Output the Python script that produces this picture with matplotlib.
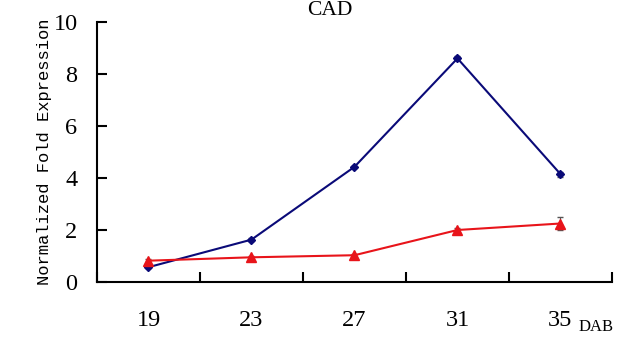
import matplotlib
matplotlib.use("Agg")
import matplotlib.pyplot as plt
import numpy as np

# Sampling stages (days after blooming) and normalized fold expression of CAD
stages = ["19", "23", "27", "31", "35"]
series_blue = [0.57, 1.63, 4.43, 8.60, 4.15]
err_blue = [0.05, 0.05, 0.05, 0.08, 0.10]
series_red = [0.82, 0.95, 1.03, 2.00, 2.25]
err_red = [0.05, 0.05, 0.05, 0.06, 0.25]
y_ticks = [0, 2, 4, 6, 8, 10]

serif = ["Liberation Serif", "DejaVu Serif"]

fig = plt.figure(figsize=(6.23, 3.37), dpi=100)
ax = fig.add_axes([0.1557, 0.1632, 0.8266, 0.7715])

x = np.arange(len(stages))
ax.errorbar(x, series_blue, yerr=err_blue, color="#0a0a78", lw=1.5,
            marker="D", ms=4, ecolor="#555555", elinewidth=0.8, capsize=2.5,
            zorder=3)
ax.errorbar(x, series_red, yerr=err_red, color="#e8141a", lw=1.5,
            marker="^", ms=6.5, ecolor="#555555", elinewidth=0.8, capsize=2.5,
            zorder=3)

ax.set_xlim(-0.5, len(stages) - 0.5)
ax.set_ylim(0, 10)

# major ticks sit between categories; category labels ride on minor ticks
ax.set_xticks(np.arange(-0.5, len(stages), 1.0))
ax.set_xticklabels([])
ax.set_xticks(x, minor=True)
ax.set_xticklabels(stages, minor=True, fontfamily=serif, fontsize=17.5)
ax.tick_params(axis="x", which="major", direction="in", length=7, width=1.5)
ax.tick_params(axis="x", which="minor", length=0, pad=20)

ax.set_yticks(y_ticks)
ax.set_yticklabels([str(v) for v in y_ticks], fontfamily=serif, fontsize=17.5)
ax.tick_params(axis="y", direction="in", length=7, width=1.5, pad=14)

for side in ("top", "right"):
    ax.spines[side].set_visible(False)
for side in ("left", "bottom"):
    ax.spines[side].set_linewidth(1.5)

fig.text(0.0722, 0.549, "Normalized Fold Expression", rotation=90,
         ha="center", va="center", fontfamily=["Liberation Mono", "DejaVu Sans Mono"],
         fontsize=12.3)
fig.text(0.530, 0.968, "CAD", ha="center", va="center",
         fontfamily=serif, fontsize=15.5)
fig.text(0.957, 0.030, "DAB", ha="center", va="center",
         fontfamily=serif, fontsize=12)

fig.savefig("out.png", dpi=100)
